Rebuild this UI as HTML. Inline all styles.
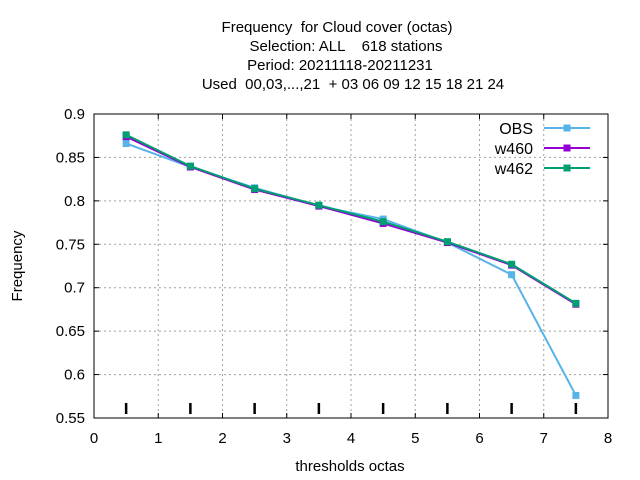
<!DOCTYPE html>
<html><head><meta charset="utf-8"><style>
body{margin:0;background:#fff}
svg{display:block;font-family:"Liberation Sans",Arial,sans-serif}
text{white-space:pre}
</style></head><body>
<svg id="chart" width="640" height="480" viewBox="0 0 640 480">
<g font-size="15" text-anchor="middle" fill="#000">
<text x="337" y="32" xml:space="preserve">Frequency  for Cloud cover (octas)</text>
<text x="346" y="51" xml:space="preserve">Selection: ALL    618 stations</text>
<text x="340" y="70" xml:space="preserve">Period: 20211118-20211231</text>
<text x="353" y="89" xml:space="preserve">Used  00,03,...,21  + 03 06 09 12 15 18 21 24</text>
</g>
<g id="grid"></g>
<g id="axes"></g>
<text x="350" y="471" font-size="15" text-anchor="middle">thresholds octas</text>
<text transform="translate(22,266) rotate(-90)" font-size="15" text-anchor="middle">Frequency</text>
<g id="series"></g>
<g id="legend"></g>
</svg>
<script>
const xCats = [0.5,1.5,2.5,3.5,4.5,5.5,6.5,7.5];
const obsVals = [0.866,0.839,0.815,0.794,0.779,0.752,0.715,0.576];
const w460Vals = [0.874,0.839,0.813,0.794,0.774,0.752,0.726,0.681];
const w462Vals = [0.876,0.840,0.814,0.795,0.776,0.753,0.727,0.682];
const xTicks = [0,1,2,3,4,5,6,7,8];
const yTicks = [0.55,0.6,0.65,0.7,0.75,0.8,0.85,0.9];
const yTickLabels = ["0.55","0.6","0.65","0.7","0.75","0.8","0.85","0.9"];
const seriesNames = ["OBS","w460","w462"];
const seriesColors = ["#56b4e9","#9400d3","#009e73"];

const L=94,R=608,T=114,B=418;
const X=v=>L+(v-0)/(8-0)*(R-L);
const Y=v=>B-(v-0.55)/(0.9-0.55)*(B-T);
const NS="http://www.w3.org/2000/svg";
function mk(tag,attrs,parent){const e=document.createElementNS(NS,tag);for(const k in attrs)e.setAttribute(k,attrs[k]);parent.appendChild(e);return e;}
const grid=document.getElementById('grid'),axes=document.getElementById('axes'),series=document.getElementById('series'),legend=document.getElementById('legend');

xTicks.forEach((t,i)=>{
  if(i>0&&i<xTicks.length-1){const g=mk('line',{x1:X(t),x2:X(t),y1:T,y2:B,stroke:'#a0a0a0','stroke-dasharray':'2,3','stroke-width':1},grid);
  
  }
  mk('line',{x1:X(t),x2:X(t),y1:B,y2:B-5,stroke:'#000'},axes);
  mk('line',{x1:X(t),x2:X(t),y1:T,y2:T+5,stroke:'#000'},axes);
  const tx=mk('text',{x:X(t),y:B+25,'font-size':15,'text-anchor':'middle'},axes);
  tx.textContent=t;
  
  
});
yTicks.forEach((t,i)=>{
  if(i>0&&i<yTicks.length-1){const g=mk('line',{x1:L,x2:R,y1:Y(t),y2:Y(t),stroke:'#a0a0a0','stroke-dasharray':'2,3','stroke-width':1},grid);
  
  }
  mk('line',{x1:L,x2:L+5,y1:Y(t),y2:Y(t),stroke:'#000'},axes);
  mk('line',{x1:R,x2:R-5,y1:Y(t),y2:Y(t),stroke:'#000'},axes);
  const tx=mk('text',{x:L-9,y:Y(t)+5,'font-size':15,'text-anchor':'end'},axes);
  tx.textContent=yTickLabels[i];
  
  
});
const frame=mk('rect',{x:L,y:T,width:R-L,height:B-T,fill:'none',stroke:'#000','stroke-width':1},axes);


xCats.forEach(c=>{
  const m=mk('line',{x1:X(c),x2:X(c),y1:403,y2:414,stroke:'#000','stroke-width':2.5},axes);
  
  
});

[obsVals,w460Vals,w462Vals].forEach((vals,si)=>{
  const col=seriesColors[si];
  const pts=vals.map((v,i)=>X(xCats[i])+','+Y(v)).join(' ');
  const pl=mk('polyline',{points:pts,fill:'none',stroke:col,'stroke-width':2},series);
  
  
  vals.forEach((v,i)=>{
    const p=mk('rect',{x:X(xCats[i])-3.5,y:Y(v)-3.5,width:7,height:7,fill:col},series);
    
    
  });
  const ly=128+si*20;
  const lt=mk('text',{x:533,y:ly+6,'font-size':16,'text-anchor':'end'},legend);
  lt.textContent=seriesNames[si];
  
  
  const ll=mk('line',{x1:544,x2:590,y1:ly,y2:ly,stroke:col,'stroke-width':2},legend);
  
  
  mk('rect',{x:563.5,y:ly-3.5,width:7,height:7,fill:col},legend);
});
</script>
</body></html>
